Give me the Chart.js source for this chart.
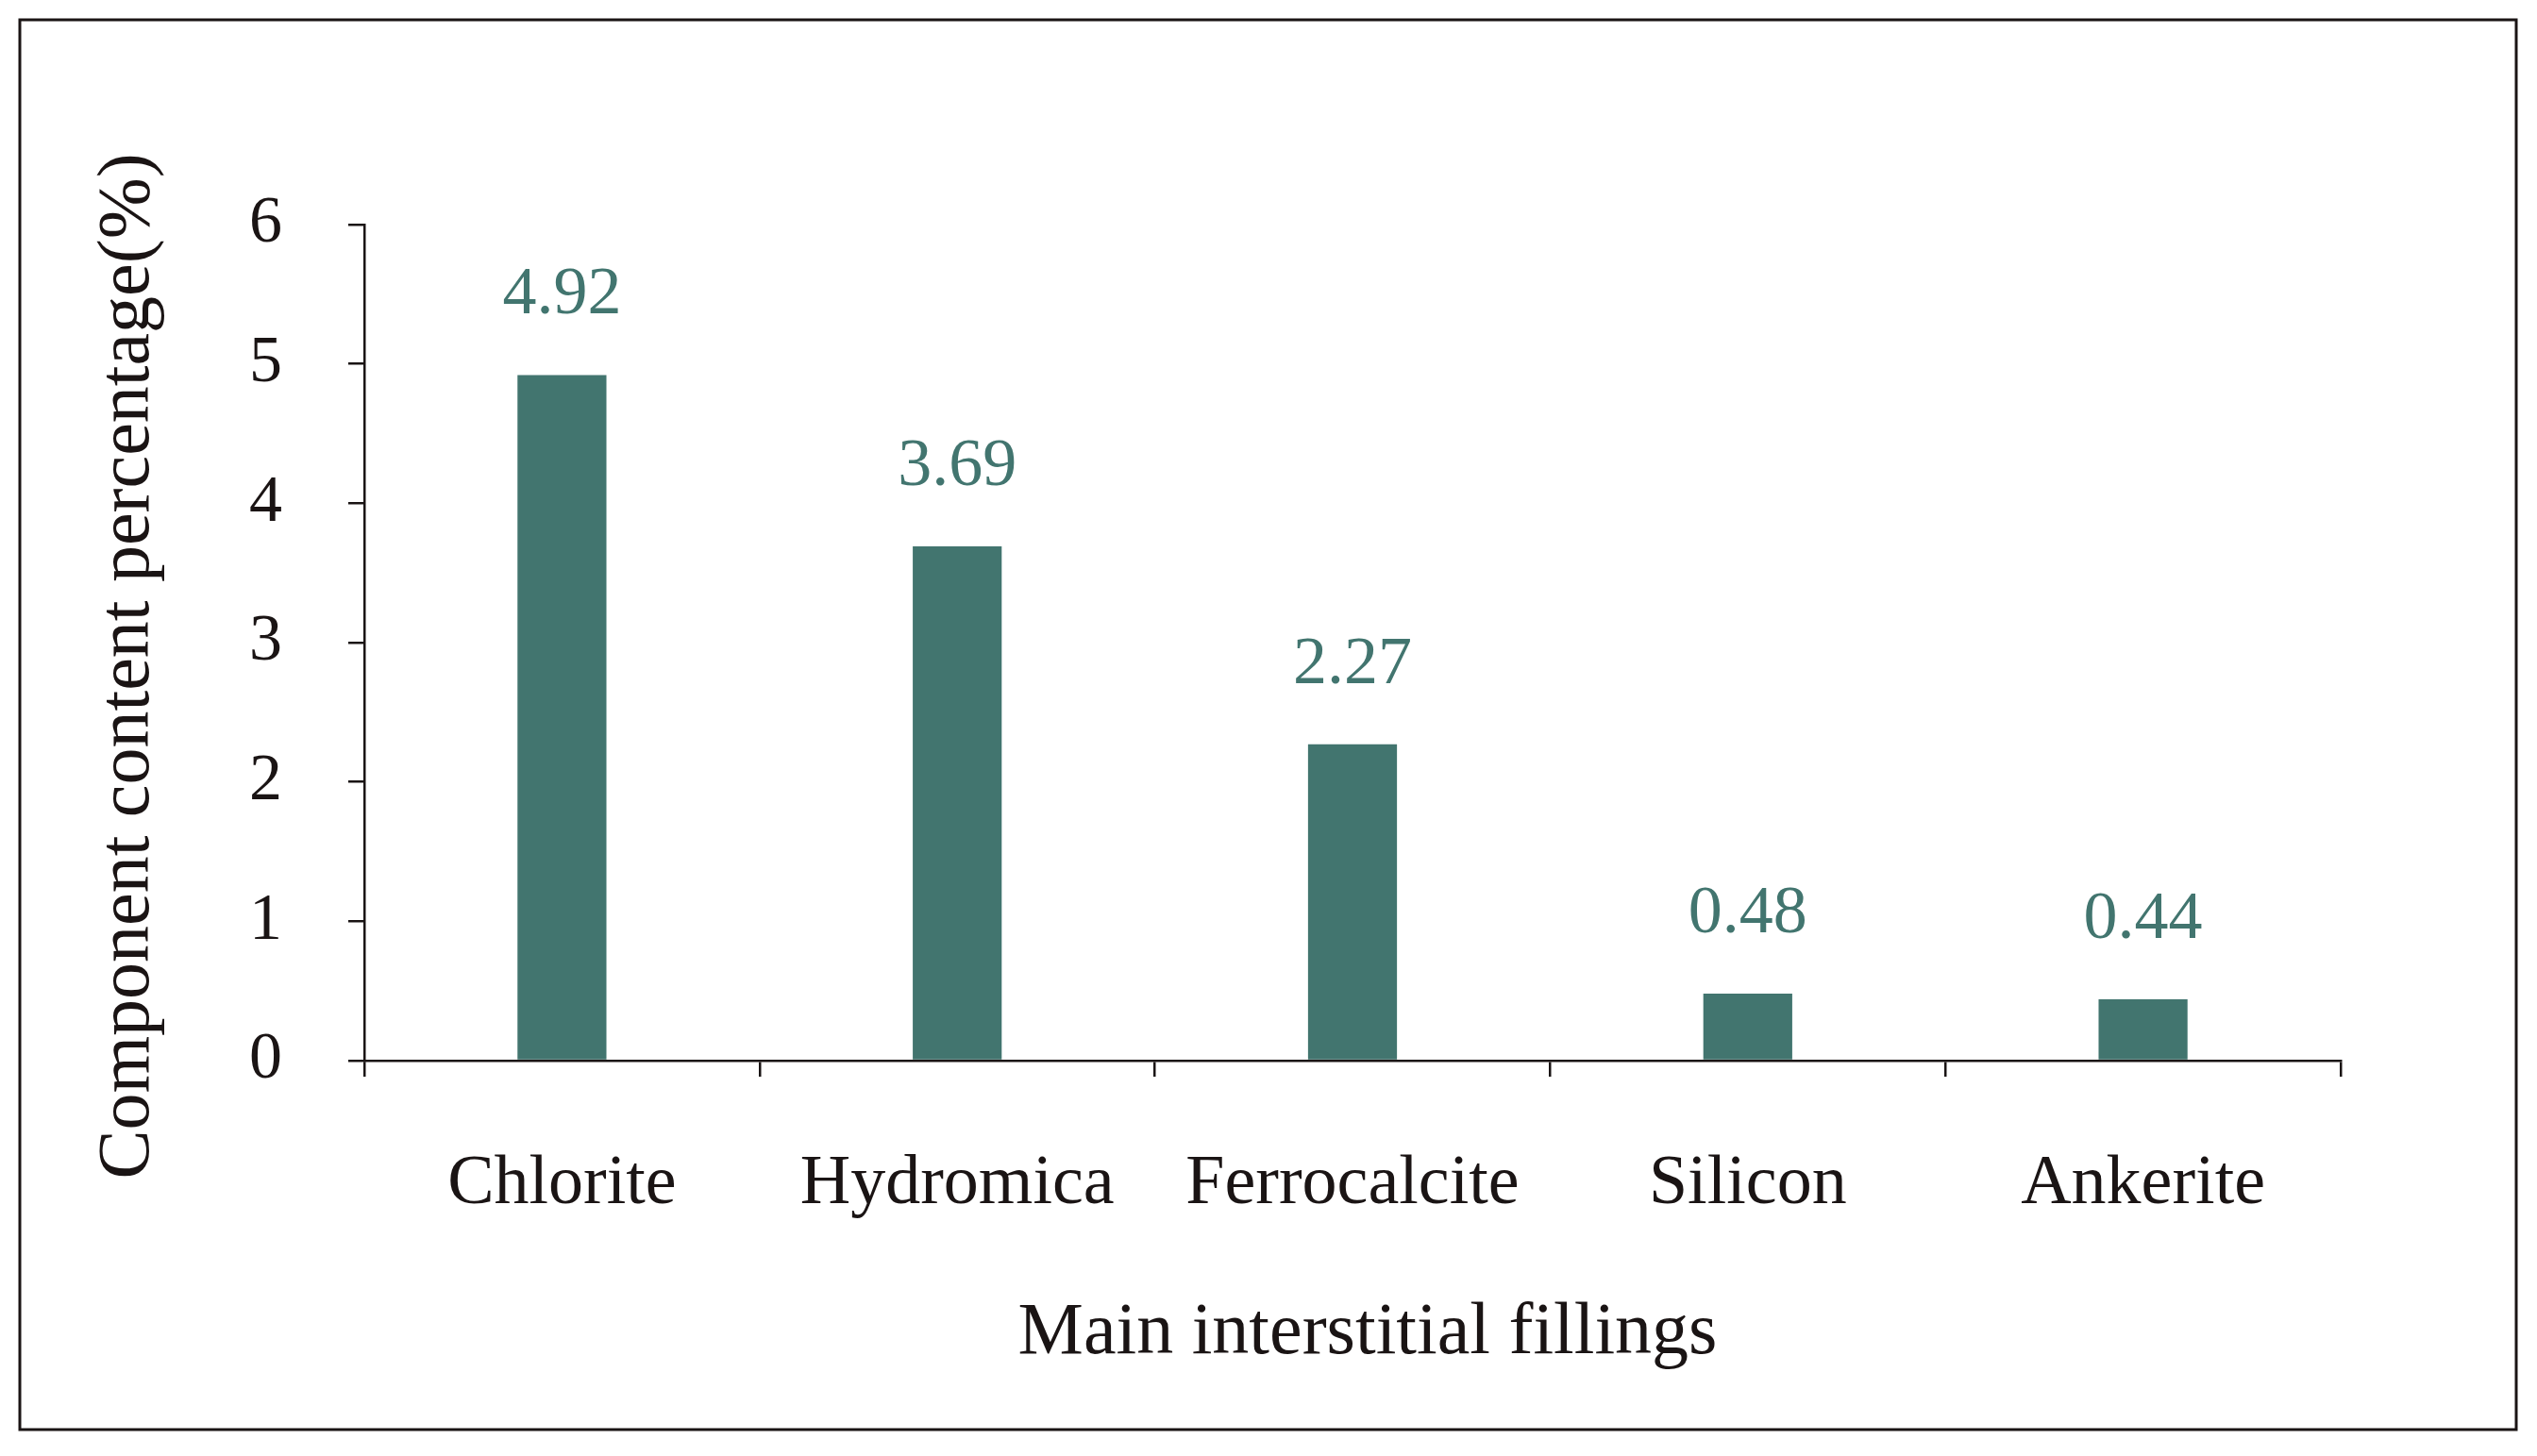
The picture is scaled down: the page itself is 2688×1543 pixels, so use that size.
<!DOCTYPE html>
<html>
<head>
<meta charset="utf-8">
<script src="https://cdn.jsdelivr.net/npm/chart.js@4/dist/chart.umd.min.js"></script>
<style>
  html, body { margin:0; padding:0; background:#fff; }
  #wrap { width:2688px; height:1543px; position:relative; }
</style>
</head>
<body>
<div id="wrap"><canvas id="chart"></canvas></div>
<script>
// data
const categorias = ['Chlorite', 'Hydromica', 'Ferrocalcite', 'Silicon', 'Ankerite'];
const valores    = [4.92, 3.69, 2.27, 0.48, 0.44];
const yTicks     = [0, 1, 2, 3, 4, 5, 6];
const tituloX    = 'Main interstitial fillings';
const tituloY    = 'Component content percentage(%)';

const SERIF = '"Liberation Serif", "DejaVu Serif", serif';
const TEAL  = '#42756f';
const INK   = '#1a1414';

// border, axis titles and value labels
const extras = {
    id: 'extras',
    afterDraw(chart) {
        const ctx = chart.ctx;
        ctx.save();
        ctx.strokeStyle = INK;
        ctx.lineWidth = 3;
        ctx.strokeRect(21, 21, 2645, 1494);

        ctx.fillStyle = INK;
        ctx.font = '78px ' + SERIF;
        ctx.textAlign = 'center';
        ctx.textBaseline = 'middle';
        ctx.fillText(tituloX, 1449, 1414);

        ctx.translate(137, 706);
        ctx.rotate(-Math.PI / 2);
        ctx.fillText(tituloY, 0, 0);
        ctx.restore();

        ctx.save();
        ctx.fillStyle = TEAL;
        ctx.font = '72px ' + SERIF;
        ctx.textAlign = 'center';
        ctx.textBaseline = 'middle';
        const meta = chart.getDatasetMeta(0);
        meta.data.forEach((bar, i) => {
            ctx.fillText(valores[i].toFixed(2), bar.x, bar.y - 84);
        });
        ctx.restore();
    }
};

new Chart(document.getElementById('chart'), {
    type: 'bar',
    data: {
        labels: categorias,
        datasets: [{
            data: valores,
            backgroundColor: TEAL,
            borderWidth: 0,
            barPercentage: 0.225,
            categoryPercentage: 1
        }]
    },
    options: {
        responsive: true,
        maintainAspectRatio: false,
        animation: false,
        layout: { padding: { left: 0, top: 238, right: 208, bottom: 0 } },
        plugins: { legend: { display: false }, tooltip: { enabled: false } },
        scales: {
            x: {
                afterFit: s => { s.height = 419; },
                border: { color: INK, width: 2.5 },
                grid: { offset: true, drawOnChartArea: false, drawTicks: true, tickLength: 17, color: INK, lineWidth: 2.5 },
                ticks: { color: INK, padding: 70, font: { family: SERIF, size: 74 } }
            },
            y: {
                min: 0, max: 6,
                afterFit: s => { s.width = 386; },
                afterBuildTicks: s => { s.ticks = yTicks.map(v => ({ value: v })); },
                border: { color: INK, width: 2.5 },
                grid: { drawOnChartArea: false, drawTicks: true, tickLength: 17, color: INK, lineWidth: 2.5 },
                ticks: { color: INK, padding: 70, font: { family: SERIF, size: 70 } }
            }
        }
    },
    plugins: [extras]
});
</script>
</body>
</html>
